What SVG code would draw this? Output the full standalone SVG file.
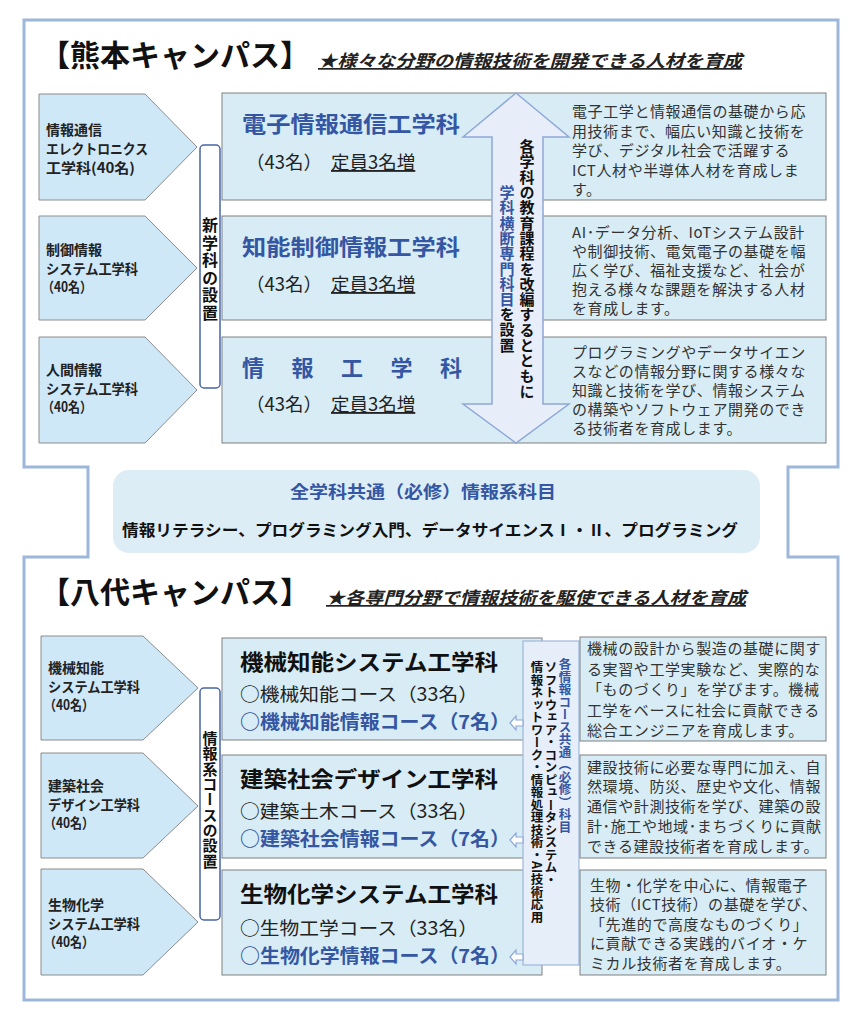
<svg xmlns="http://www.w3.org/2000/svg" width="864" height="1024" viewBox="0 0 864 1024">
<defs>
<style>
text{font-family:"Noto Sans CJK JP","Noto Sans",sans-serif;}
.frame{fill:#fff;stroke:#9db7da;stroke-width:3;}
.penta{fill:#cfe8f8;stroke:#8c8c8c;stroke-width:1;}
.row{fill:#d7ecf4;stroke:#808080;stroke-width:1;}
.bar{fill:#fff;stroke:#4a66a8;stroke-width:1.5;}
.dbl{fill:#e8eef9;stroke:#8ea8d8;stroke-width:1.5;}
.small{fill:#fff;stroke:#8ea8d8;stroke-width:1.2;}
.lbl{font-size:14px;font-weight:700;fill:#222;}
.ttl{font-size:22px;font-weight:700;fill:#3456a3;}
.ttlk{font-size:22px;font-weight:700;fill:#111;}
.sub{font-size:18.5px;fill:#222;}
.subb{font-size:19px;font-weight:700;fill:#3456a3;}
.desc{font-size:15px;fill:#333;letter-spacing:0.6px;}
.vt{writing-mode:vertical-rl;}
.head{font-size:30px;font-weight:700;fill:#111;}
.tag{font-size:17px;font-weight:700;font-style:italic;fill:#222;text-decoration:underline;}
.blue{fill:#3456a3;}
.blk{fill:#111;}
.ul{text-decoration:underline;}
</style>
</defs>

<g id="frame">
<path class="frame" d="M24,20 H838 V467 H788 V557 H838 V1000 H24 V557 H88 V467 H24 Z"/>
</g>

<g id="kumamoto-heading">
<text class="head" x="40" y="66">【熊本キャンパス】</text>
<text class="tag" x="318" y="67" textLength="424" lengthAdjust="spacingAndGlyphs">★様々な分野の情報技術を開発できる人材を育成</text>
</g>

<!-- Kumamoto old departments -->
<g id="k-old-1">
<polygon class="penta" points="39,94 145,94 197,147 145,200 39,200"/>
<text class="lbl"><tspan x="46" y="135">情報通信</tspan><tspan x="46" y="154" textLength="102" lengthAdjust="spacingAndGlyphs">エレクトロニクス</tspan><tspan x="46" y="173" textLength="89" lengthAdjust="spacingAndGlyphs">工学科(40名)</tspan></text>
</g>
<g id="k-old-2">
<polygon class="penta" points="39,216 145,216 197,268 145,320 39,320"/>
<text class="lbl"><tspan x="46" y="255">制御情報</tspan><tspan x="46" y="274" textLength="92" lengthAdjust="spacingAndGlyphs">システム工学科</tspan><tspan x="42" y="292" textLength="50" lengthAdjust="spacingAndGlyphs">（40名）</tspan></text>
</g>
<g id="k-old-3">
<polygon class="penta" points="39,337 145,337 197,390 145,443 39,443"/>
<text class="lbl"><tspan x="46" y="375">人間情報</tspan><tspan x="46" y="394" textLength="92" lengthAdjust="spacingAndGlyphs">システム工学科</tspan><tspan x="42" y="412" textLength="50" lengthAdjust="spacingAndGlyphs">（40名）</tspan></text>
</g>

<g id="k-bar">
<rect class="bar" x="200" y="145" width="20" height="243" rx="4"/>
<text class="vt" x="210" y="217" style="font-size:16px;font-weight:700;fill:#111;letter-spacing:1.5px">新学科の設置</text>
</g>

<!-- Kumamoto new departments -->
<g id="k-new-1">
<rect class="row" x="222" y="93" width="604" height="107"/>
<text class="ttl" x="242" y="132" textLength="218" lengthAdjust="spacingAndGlyphs">電子情報通信工学科</text>
<text class="sub" y="169"><tspan x="246">（43名）</tspan><tspan x="331" class="ul">定員3名増</tspan></text>
<text class="desc"><tspan x="572" y="117">電子工学と情報通信の基礎から応</tspan><tspan x="572" y="136.5">用技術まで、幅広い知識と技術を</tspan><tspan x="572" y="156">学び、デジタル社会で活躍する</tspan><tspan x="572" y="175.5">ICT人材や半導体人材を育成しま</tspan><tspan x="572" y="195">す。</tspan></text>
</g>
<g id="k-new-2">
<rect class="row" x="222" y="216" width="604" height="104"/>
<text class="ttl" x="242" y="255" textLength="218" lengthAdjust="spacingAndGlyphs">知能制御情報工学科</text>
<text class="sub" y="291"><tspan x="246">（43名）</tspan><tspan x="331" class="ul">定員3名増</tspan></text>
<text class="desc"><tspan x="572" y="237.5">AI･データ分析、IoTシステム設計</tspan><tspan x="572" y="256.5">や制御技術、電気電子の基礎を幅</tspan><tspan x="572" y="275.5">広く学び、福祉支援など、社会が</tspan><tspan x="572" y="294.5">抱える様々な課題を解決する人材</tspan><tspan x="572" y="313.5">を育成します。</tspan></text>
</g>
<g id="k-new-3">
<rect class="row" x="222" y="337" width="604" height="106"/>
<text class="ttl" x="242" y="376" textLength="220" lengthAdjust="spacing">情報工学科</text>
<text class="sub" y="411"><tspan x="246">（43名）</tspan><tspan x="331" class="ul">定員3名増</tspan></text>
<text class="desc"><tspan x="572" y="357.5">プログラミングやデータサイエン</tspan><tspan x="572" y="376.5">スなどの情報分野に関する様々な</tspan><tspan x="572" y="395.5">知識と技術を学び、情報システム</tspan><tspan x="572" y="414.5">の構築やソフトウェア開発のでき</tspan><tspan x="572" y="433.5">る技術者を育成します。</tspan></text>
</g>

<g id="k-curriculum-arrow">
<path class="dbl" d="M516,93 L569,137 L543,137 L543,404 L569,404 L516,443 L463,404 L492,404 L492,137 L463,137 Z"/>
<text class="vt" x="527" y="139" style="font-size:15px;font-weight:700;fill:#111;letter-spacing:0.3px">各学科の教育課程を改編するとともに</text>
<text class="vt" x="507" y="185" style="font-size:15px;font-weight:700;letter-spacing:0.3px"><tspan class="blue">学科横断専門科目</tspan><tspan class="blk">を設置</tspan></text>
</g>

<g id="common-subjects">
<rect x="113" y="470" width="647" height="83" rx="16" fill="#dcedf6"/>
<text x="290" y="498" textLength="266" lengthAdjust="spacingAndGlyphs" style="font-size:17px;font-weight:700;fill:#3456a3">全学科共通（必修）情報系科目</text>
<text x="122" y="536" textLength="616" lengthAdjust="spacingAndGlyphs" style="font-size:16px;font-weight:700;fill:#111">情報リテラシー、プログラミング入門、データサイエンスⅠ・Ⅱ、プログラミング</text>
</g>

<g id="yatsushiro-heading">
<text class="head" x="40" y="603">【八代キャンパス】</text>
<text class="tag" x="326" y="604" textLength="420" lengthAdjust="spacingAndGlyphs">★各専門分野で情報技術を駆使できる人材を育成</text>
</g>

<!-- Yatsushiro old departments -->
<g id="y-old-1">
<polygon class="penta" points="41,636 143,636 198,688 143,740 41,740"/>
<text class="lbl"><tspan x="48" y="673">機械知能</tspan><tspan x="48" y="692" textLength="92" lengthAdjust="spacingAndGlyphs">システム工学科</tspan><tspan x="44" y="710" textLength="50" lengthAdjust="spacingAndGlyphs">（40名）</tspan></text>
</g>
<g id="y-old-2">
<polygon class="penta" points="41,753 143,753 198,806 143,858 41,858"/>
<text class="lbl"><tspan x="48" y="791">建築社会</tspan><tspan x="48" y="810" textLength="92" lengthAdjust="spacingAndGlyphs">デザイン工学科</tspan><tspan x="44" y="828" textLength="50" lengthAdjust="spacingAndGlyphs">（40名）</tspan></text>
</g>
<g id="y-old-3">
<polygon class="penta" points="41,869 143,869 198,922 143,975 41,975"/>
<text class="lbl"><tspan x="48" y="910">生物化学</tspan><tspan x="48" y="929" textLength="92" lengthAdjust="spacingAndGlyphs">システム工学科</tspan><tspan x="44" y="947" textLength="50" lengthAdjust="spacingAndGlyphs">（40名）</tspan></text>
</g>

<g id="y-bar">
<rect class="bar" x="200" y="688" width="20" height="232" rx="4"/>
<text class="vt" x="210" y="731" style="font-size:15px;font-weight:700;fill:#111;letter-spacing:0.3px">情報系コースの設置</text>
</g>

<!-- Yatsushiro new departments -->
<g id="y-new-1">
<rect class="row" x="222" y="638" width="320" height="102"/>
<text class="ttlk" x="240" y="670" textLength="258" lengthAdjust="spacingAndGlyphs">機械知能システム工学科</text>
<text class="sub" x="240" y="701" textLength="238" lengthAdjust="spacingAndGlyphs">○機械知能コース（33名）</text>
<text class="subb" x="240" y="729" textLength="270" lengthAdjust="spacingAndGlyphs">○機械知能情報コース（7名）</text>
</g>
<g id="y-new-2">
<rect class="row" x="222" y="755" width="320" height="103"/>
<text class="ttlk" x="240" y="787" textLength="258" lengthAdjust="spacingAndGlyphs">建築社会デザイン工学科</text>
<text class="sub" x="240" y="818" textLength="238" lengthAdjust="spacingAndGlyphs">○建築土木コース（33名）</text>
<text class="subb" x="240" y="846" textLength="270" lengthAdjust="spacingAndGlyphs">○建築社会情報コース（7名）</text>
</g>
<g id="y-new-3">
<rect class="row" x="222" y="870" width="320" height="105"/>
<text class="ttlk" x="240" y="902" textLength="258" lengthAdjust="spacingAndGlyphs">生物化学システム工学科</text>
<text class="sub" x="240" y="935" textLength="238" lengthAdjust="spacingAndGlyphs">○生物工学コース（33名）</text>
<text class="subb" x="240" y="963" textLength="270" lengthAdjust="spacingAndGlyphs">○生物化学情報コース（7名）</text>
</g>

<g id="y-common-course">
<rect x="523" y="641" width="56" height="324" fill="#e6eefa" stroke="#9db7da" stroke-width="1.2"/>
<text class="vt" x="565" y="658" style="font-size:12.5px;font-weight:700;fill:#3456a3">各情報コース共通（必修）科目</text>
<text class="vt" x="551" y="661" style="font-size:12.5px;font-weight:700;fill:#111">ソフトウェア・コンピュータシステム・</text>
<text class="vt" x="537" y="661" style="font-size:12.5px;font-weight:700;fill:#111">情報ネットワーク・情報処理技術・AI技術応用</text>
</g>

<g id="y-desc-1">
<rect class="row" x="580" y="637" width="246" height="104"/>
<text class="desc"><tspan x="587" y="654">機械の設計から製造の基礎に関す</tspan><tspan x="587" y="674.5">る実習や工学実験など、実際的な</tspan><tspan x="587" y="695">「ものづくり」を学びます。機械</tspan><tspan x="587" y="715.5">工学をベースに社会に貢献できる</tspan><tspan x="587" y="736">総合エンジニアを育成します。</tspan></text>
</g>
<g id="y-desc-2">
<rect class="row" x="580" y="755" width="246" height="103"/>
<text class="desc"><tspan x="587" y="772.5">建設技術に必要な専門に加え、自</tspan><tspan x="587" y="792">然環境、防災、歴史や文化、情報</tspan><tspan x="587" y="812">通信や計測技術を学び、建築の設</tspan><tspan x="587" y="832">計･施工や地域･まちづくりに貢献</tspan><tspan x="587" y="851.5">できる建設技術者を育成します。</tspan></text>
</g>
<g id="y-desc-3">
<rect class="row" x="580" y="870" width="246" height="105"/>
<text class="desc"><tspan x="590" y="890.5">生物・化学を中心に、情報電子</tspan><tspan x="590" y="910">技術（ICT技術）の基礎を学び、</tspan><tspan x="590" y="929.5">「先進的で高度なものづくり」</tspan><tspan x="590" y="949">に貢献できる実践的バイオ・ケ</tspan><tspan x="590" y="968.5">ミカル技術者を育成します。</tspan></text>
</g>

<g id="connectors">
<path class="small" d="M510,723 L516,716 L516,720 L523,720 L523,726 L516,726 L516,730 Z"/>
<path class="small" d="M510,840 L516,833 L516,837 L523,837 L523,843 L516,843 L516,847 Z"/>
<path class="small" d="M510,957 L516,950 L516,954 L523,954 L523,960 L516,960 L516,964 Z"/>
</g>
</svg>
